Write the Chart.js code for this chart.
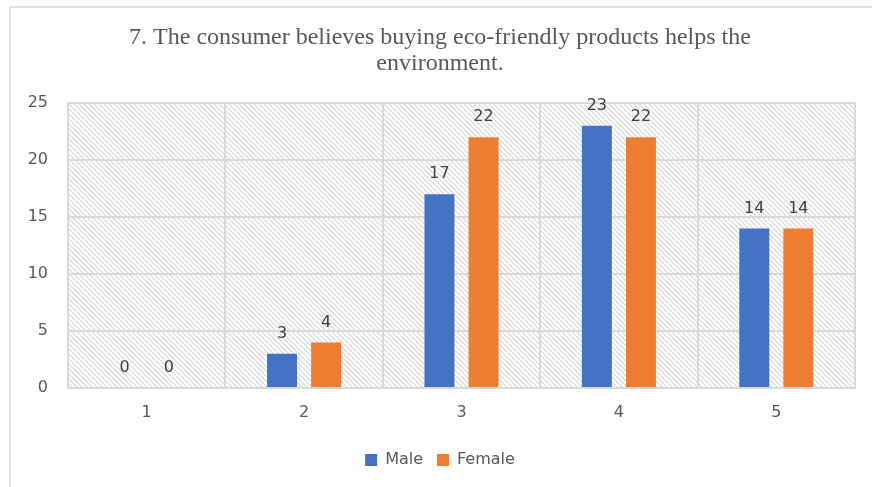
<!DOCTYPE html>
<html>
<head>
<meta charset="utf-8">
<script src="https://cdn.jsdelivr.net/npm/chart.js@4.4.0/dist/chart.umd.min.js"></script>
<style>
  body { margin: 0; background: #fff; }
  #wrap { width: 872px; height: 487px; }
</style>
</head>
<body>
<div id="wrap"><canvas id="chart" width="872" height="487"></canvas></div>
<script>
// Data
const categories = ['1', '2', '3', '4', '5'];
const maleValues = [0, 3, 17, 23, 14];
const femaleValues = [0, 4, 22, 22, 14];
const yTicks = [0, 5, 10, 15, 20, 25];

const titleLines = ['7. The consumer believes buying eco-friendly products helps the', 'environment.'];

// Diagonal hatch for the plot area
function makeHatch(ctx) {
    const c = document.createElement('canvas');
    c.width = 5;
    c.height = 5;
    const p = c.getContext('2d');
    p.fillStyle = '#ffffff';
    p.fillRect(0, 0, 5, 5);
    p.strokeStyle = '#dcdcdc';
    p.lineWidth = 1.3;
    p.beginPath();
    p.moveTo(-1, -1); p.lineTo(6, 6);
    p.moveTo(-1, 4); p.lineTo(1, 6);
    p.moveTo(4, -1); p.lineTo(6, 1);
    p.stroke();
    return ctx.createPattern(c, 'repeat');
}

const backgroundPlugin = {
    id: 'backgroundPlugin',
    beforeDraw(chart) {
        const { ctx, chartArea } = chart;
        ctx.save();
        // outer frame
        ctx.strokeStyle = '#d9d9d9';
        ctx.lineWidth = 1.5;
        ctx.beginPath();
        ctx.moveTo(10, 487);
        ctx.lineTo(10, 7);
        ctx.lineTo(872, 7);
        ctx.stroke();
        // hatch
        ctx.fillStyle = makeHatch(ctx);
        ctx.fillRect(chartArea.left, chartArea.top, chartArea.right - chartArea.left, chartArea.bottom - chartArea.top);
        ctx.restore();
    }
};

const valueLabels = {
    id: 'valueLabels',
    afterDatasetsDraw(chart) {
        const { ctx } = chart;
        ctx.save();
        ctx.font = '16px "DejaVu Sans", sans-serif';
        ctx.fillStyle = '#404040';
        ctx.textAlign = 'center';
        ctx.textBaseline = 'middle';
        chart.data.datasets.forEach((ds, i) => {
            chart.getDatasetMeta(i).data.forEach((bar, j) => {
                ctx.fillText(ds.data[j], bar.x, bar.y - 20);
            });
        });
        ctx.restore();
    }
};

new Chart(document.getElementById('chart'), {
    type: 'bar',
    data: {
        labels: categories,
        datasets: [
            { label: 'Male', data: maleValues, backgroundColor: '#4472c4' },
            { label: 'Female', data: femaleValues, backgroundColor: '#ed7d31' }
        ]
    },
    options: {
        responsive: false,
        animation: false,
        devicePixelRatio: 1,
        categoryPercentage: 0.56,
        barPercentage: 0.68,
        layout: { padding: { left: 25, right: 17, top: 12, bottom: 9 } },
        plugins: {
            title: {
                display: true,
                text: titleLines,
                color: '#595959',
                font: { family: '"Liberation Serif", "Times New Roman", serif', size: 24, weight: 'normal', lineHeight: 1.083 },
                padding: { top: 13, bottom: 26 }
            },
            legend: {
                position: 'bottom',
                labels: {
                    color: '#595959',
                    font: { family: '"DejaVu Sans", sans-serif', size: 16 },
                    boxWidth: 12,
                    boxHeight: 12,
                    padding: 14
                }
            },
            tooltip: { enabled: false }
        },
        scales: {
            x: {
                grid: { color: '#d9d9d9', lineWidth: 2, drawTicks: false, offset: true },
                border: { color: '#d9d9d9', width: 2 },
                ticks: { color: '#595959', font: { family: '"DejaVu Sans", sans-serif', size: 16, lineHeight: 1 }, padding: 17 }
            },
            y: {
                min: 0,
                max: 25,
                afterBuildTicks(axis) { axis.ticks = yTicks.map(v => ({ value: v })); },
                afterFit(axis) { axis.width = 43; },
                grid: { color: '#d9d9d9', lineWidth: 2, drawTicks: false },
                border: { color: '#d9d9d9', width: 2 },
                ticks: { color: '#595959', font: { family: '"DejaVu Sans", sans-serif', size: 16 }, padding: 20 }
            }
        }
    },
    plugins: [backgroundPlugin, valueLabels]
});
</script>
</body>
</html>
